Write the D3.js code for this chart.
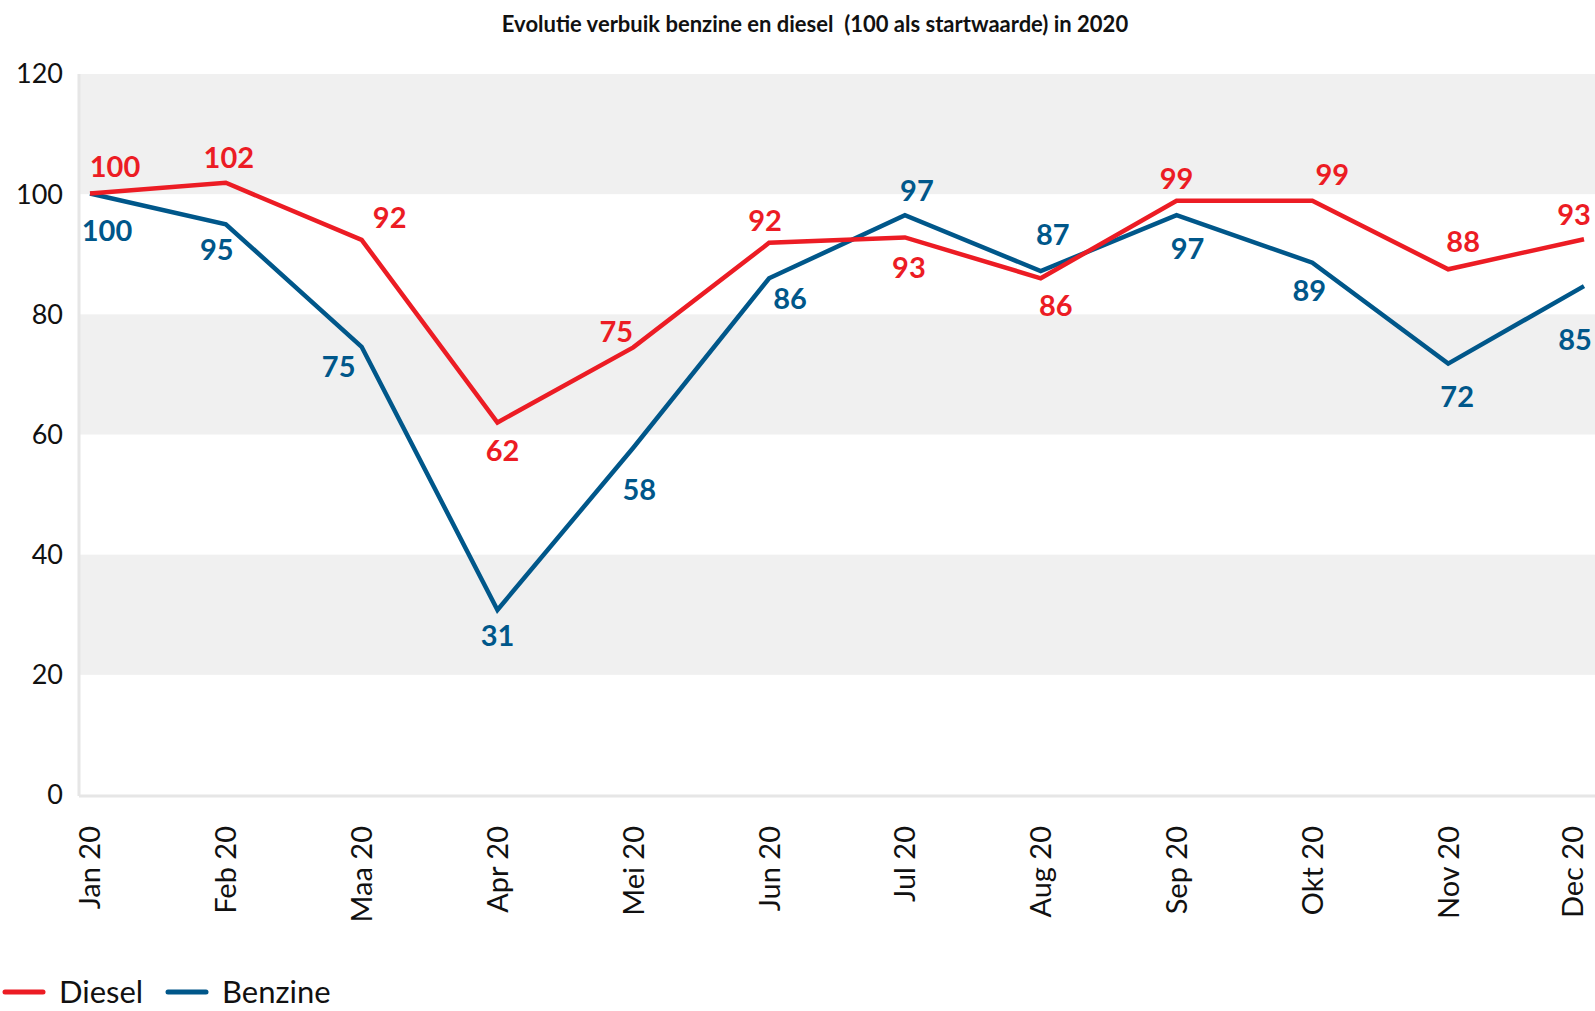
<!DOCTYPE html>
<html lang="nl">
<head>
    <meta charset="UTF-8">
    <title>Evolutie verbuik benzine en diesel</title>
    <script src="https://d3js.org/d3.v7.min.js"></script>
    <style>
        body { margin: 0; background: #fff; font-family: Lato, "Noto Sans", sans-serif; }
        svg { display: block; }
        .tick-label { font-size: 27px; fill: #111; }
        .x-label { font-size: 29px; fill: #111; }
        .value-label { font-size: 29px; font-weight: bold; }
    </style>
</head>
<body>
<svg id="chart" width="1595" height="1011"></svg>
<script>
    // Data
    const months = ["Jan 20", "Feb 20", "Maa 20", "Apr 20", "Mei 20", "Jun 20",
                    "Jul 20", "Aug 20", "Sep 20", "Okt 20", "Nov 20", "Dec 20"];
    const diesel = [100.1, 101.9, 92.4, 62.0, 74.5, 91.9, 92.8, 86.0, 98.9, 98.9, 87.5, 92.5];
    const benzine = [100.1, 95.0, 74.6, 30.8, 57.8, 86.0, 96.5, 87.2, 96.5, 88.6, 71.8, 84.7];
    const yTicks = [0, 20, 40, 60, 80, 100, 120];

    // label placement around each point [dx, dy] in px
    const dieselLabelPos = [[25, -27], [3, -25], [28, -22], [5, 28], [-17, -16], [-4, -22],
                            [4, 30], [15, 28], [0, -22], [20, -26], [15, -27], [-10, -24]];
    const benzineLabelPos = [[17, 37], [-9, 26], [-23, 20], [0, 26], [6, 42], [21, 21],
                             [12, -24], [12, -36], [11, 34], [-3, 28], [9, 33], [-9, 54]];

    const RED = "#ec1c24", BLUE = "#00578a";

    const svg = d3.select("#chart");
    const plotLeft = 79, plotRight = 1595, plotTop = 74, plotBottom = 795;

    const x = d3.scalePoint().domain(months).range([90, 1584]);
    const y = d3.scaleLinear().domain([0, 120]).range([plotBottom, plotTop]);

    // alternating bands
    for (let i = 0; i < yTicks.length - 1; i++) {
        if (i % 2 === 1) {
            svg.append("rect")
                .attr("x", plotLeft)
                .attr("y", y(yTicks[i + 1]))
                .attr("width", plotRight - plotLeft)
                .attr("height", y(yTicks[i]) - y(yTicks[i + 1]))
                .attr("fill", "#f0f0f0");
        }
    }

    // axis lines
    svg.append("line")
        .attr("x1", plotLeft).attr("x2", plotLeft)
        .attr("y1", plotTop).attr("y2", plotBottom + 1)
        .attr("stroke", "#e6e6e6").attr("stroke-width", 3);
    svg.append("line")
        .attr("x1", plotLeft).attr("x2", plotRight)
        .attr("y1", plotBottom + 1).attr("y2", plotBottom + 1)
        .attr("stroke", "#e6e6e6").attr("stroke-width", 3);

    // y tick labels
    svg.selectAll(".ytick")
        .data(yTicks)
        .join("text")
        .attr("class", "tick-label")
        .attr("x", 63)
        .attr("y", d => y(d))
        .attr("dy", "0.35em")
        .attr("text-anchor", "end")
        .text(d => d);

    // x tick labels (rotated), kept inside the page at the right edge
    svg.selectAll(".xtick")
        .data(months)
        .join("text")
        .attr("class", "x-label")
        .attr("transform", d => `translate(${Math.min(x(d), 1573)},826) rotate(-90)`)
        .attr("dy", "0.36em")
        .attr("text-anchor", "end")
        .text(d => d);

    // title
    svg.append("text")
        .attr("x", 815)
        .attr("y", 32)
        .attr("text-anchor", "middle")
        .attr("font-size", 22)
        .attr("font-weight", "bold")
        .attr("fill", "#111")
        .style("white-space", "pre")
        .text("Evolutie verbuik benzine en diesel  (100 als startwaarde) in 2020");

    const line = d3.line()
        .x((d, i) => x(months[i]))
        .y(d => y(d));

    function drawSeries(values, color, pos) {
        svg.append("path")
            .datum(values)
            .attr("d", line)
            .attr("fill", "none")
            .attr("stroke", color)
            .attr("stroke-width", 4.5)
            .attr("stroke-linejoin", "miter");

        svg.selectAll(null)
            .data(values)
            .join("text")
            .attr("class", "value-label")
            .attr("fill", color)
            .attr("x", (d, i) => x(months[i]) + pos[i][0])
            .attr("y", (d, i) => y(d) + pos[i][1])
            .attr("dy", "0.35em")
            .attr("text-anchor", "middle")
            .text(d => Math.round(d));
    }

    drawSeries(benzine, BLUE, benzineLabelPos);
    drawSeries(diesel, RED, dieselLabelPos);

    // legend
    const legend = [["Diesel", RED, 5], ["Benzine", BLUE, 168]];
    legend.forEach(([name, color, lx]) => {
        svg.append("line")
            .attr("x1", lx).attr("x2", lx + 38)
            .attr("y1", 992).attr("y2", 992)
            .attr("stroke", color).attr("stroke-width", 5)
            .attr("stroke-linecap", "round");
        svg.append("text")
            .attr("x", lx + 54)
            .attr("y", 1003)
            .attr("font-size", 31)
            .attr("fill", "#111")
            .text(name);
    });
</script>
</body>
</html>
